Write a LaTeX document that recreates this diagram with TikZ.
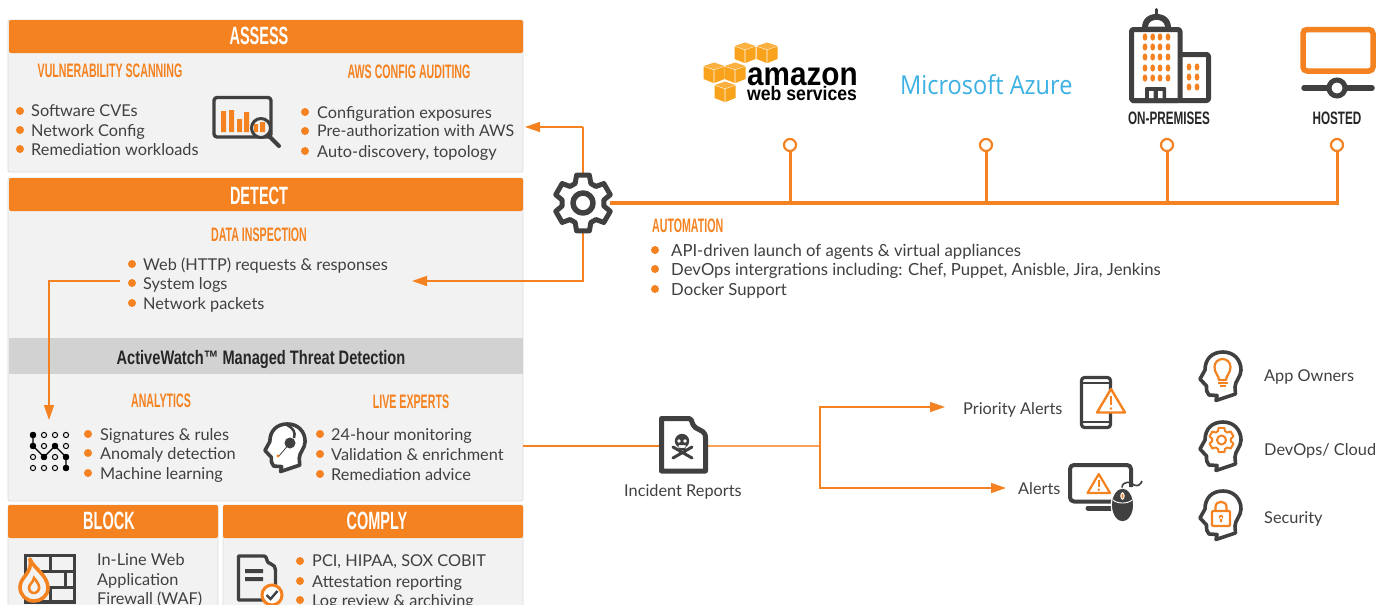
\documentclass[tikz,border=0pt]{standalone}
\usepackage{fontspec}
\setmainfont{Lato}
\newfontfamily\headf[FakeStretch=0.58]{Liberation Sans}
\newfontfamily\subf[FakeStretch=0.545]{Liberation Sans}
\newfontfamily\awf[FakeStretch=0.75]{Liberation Sans}
\newfontfamily\opf[FakeStretch=0.65]{Liberation Sans}
\newfontfamily\wsf[FakeStretch=0.90]{Liberation Sans}
\newfontfamily\azf[FakeStretch=0.905]{Open Sans}
\usetikzlibrary{arrows.meta,calc}
\definecolor{org}{HTML}{F58220}
\definecolor{dk}{HTML}{404040}
\definecolor{pan}{HTML}{F2F2F2}
\definecolor{bandc}{HTML}{D2D2D2}
\definecolor{pedge}{HTML}{DCDCDC}
\definecolor{azc}{HTML}{3DB1E3}
\definecolor{cubea}{HTML}{F9A21B}
\definecolor{cubeb}{HTML}{FBB040}
\tikzset{
  x=1pt,y=-1pt,
  panel/.style={fill=pan,draw=pedge,line width=.8,rounded corners=2},
  hdr/.style={fill=org,rounded corners=2},
  hdrtext/.style={text=white,font=\headf\bfseries\fontsize{25}{25}\selectfont,inner sep=0},
  sub/.style={text=org,font=\subf\bfseries\fontsize{19.5}{19.5}\selectfont,inner sep=0},
  body/.style={text=dk,font=\fontsize{16.3}{16.3}\selectfont,anchor=west,inner sep=0,yshift=-2.5pt},
  bull/.style={circle,fill=org,inner sep=0,minimum size=8},
  conn/.style={draw=org,line width=1.4},
  arr/.style={conn,-{Triangle[length=15,width=10,fill=org]}},
  thick line/.style={draw=org,line width=3.6},
  ic/.style={draw=dk,line width=3.4,line join=round},
  icorg/.style={draw=org,line width=2.2,line join=round},
  pinring/.style={circle,draw=org,line width=2.2,fill=white,inner sep=0,minimum size=12},
  opl/.style={inner sep=0,text=black!85,font=\opf\bfseries\fontsize{18}{18}\selectfont},
}
\newcommand\bl[5]{\node[bull] (#5b) at (#1,#3) {};\node[body] (#5) at (#2,#3) {\strut #4};}
\newcommand\gearshape[3]{%
  \draw[ic,line width=5] (17:#1) \foreach \a in {30,90,...,330}{ -- (\a-13:#1) -- (\a+13:#1) -- (\a+22:#2) -- (\a+38:#2) -- (\a+47:#1) } -- cycle;
  \draw[ic,line width=5.5] (0,0) circle (#3);}
\newcommand\headicon[3]{%
  \begin{scope}[shift={(#1,#2)},scale=#3]
  \draw[ic,line width=3.6,fill=white] (19,50.5) -- (20,45.5) -- (12,45) .. controls (9.5,43) and (9.5,40) .. (9.5,36) -- (3,29) -- (8,20)
   .. controls (8,9) and (15,2) .. (26,2) .. controls (37,2) and (44,10) .. (44,20)
   .. controls (44,27) and (38,31) .. (38,37) -- (38.5,44) -- cycle;
  \end{scope}}
\newcommand\warn[5]{%
  \draw[draw=org,line width=#5,line join=round,fill=white] ({(#1+#2)/2},#3) -- (#2,#4) -- (#1,#4) -- cycle;
  \draw[draw=org,line width=#5] ({(#1+#2)/2},{#3+0.3*(#4-#3)}) -- ({(#1+#2)/2},{#3+0.68*(#4-#3)});
  \fill[org] ({(#1+#2)/2},{#3+0.83*(#4-#3)}) circle (#5*0.6);}
\newcommand\cube[2]{%
  \begin{scope}[shift={(#1,#2)}]
  \fill[cubea] (-.4,-3) -- (-10.5,-6.5) -- (-10.5,6) -- (-.4,10) -- cycle;
  \fill[cubea] (.4,-3) -- (10.5,-6.5) -- (10.5,6) -- (.4,10) -- cycle;
  \fill[cubeb] (0,-10.5) -- (10.5,-7) -- (0,-3.5) -- (-10.5,-7) -- cycle;
  \end{scope}}
\begin{document}
\begin{tikzpicture}
\clip (0,0) rectangle (1379,605);
\fill[white] (0,0) rectangle (1379,605);
% panels
\draw[panel] (8,20) rectangle (523,172);
\draw[panel] (8,178) rectangle (523,501);
\draw[panel] (8,505) rectangle (218,620);
\draw[panel] (223,505) rectangle (523,620);
\fill[hdr] (9,20) rectangle (523,53);
\fill[hdr] (9,178) rectangle (523,211);
\fill[bandc] (8.5,338) rectangle (523,374);
\fill[hdr] (8,505) rectangle (218,538);
\fill[hdr] (223,505) rectangle (523,538);
\node[hdrtext] (assess) at (259,36) {ASSESS};
\node[hdrtext] (detect) at (259,196) {DETECT};
\node[hdrtext] (block) at (109,521) {BLOCK};
\node[hdrtext] (comply) at (377,521) {COMPLY};
\node[sub] (vs) at (110,71) {VULNERABILITY SCANNING};
\node[sub] (aws) at (409,72) {AWS CONFIG AUDITING};
\node[sub] (di) at (259,235) {DATA INSPECTION};
\node[sub] (an) at (161,401) {ANALYTICS};
\node[sub] (le) at (411,402) {LIVE EXPERTS};
\node[inner sep=0,text=black!85,font=\awf\bfseries\fontsize{19.5}{19.5}\selectfont] (aw) at (261,359) {ActiveWatch™ Managed Threat Detection};
% lists
\bl{20}{31}{111}{Software CVEs}{a1}
\bl{20}{31}{130}{Network Config}{a2}
\bl{20}{31}{149}{Remediation workloads}{a3}
\bl{305}{317}{112}{Configuration exposures}{b1}
\bl{305}{317}{131}{\fontsize{16}{16}\selectfont Pre-authorization with AWS}{b2}
\bl{305}{317}{151}{Auto-discovery, topology}{b3}
\bl{132}{143}{264}{Web (HTTP) requests \& responses}{c1}
\bl{132}{143}{283}{System logs}{c2}
\bl{132}{143}{303}{Network packets}{c3}
\bl{88}{100}{434}{Signatures \& rules}{d1}
\bl{88}{100}{453}{Anomaly detection}{d2}
\bl{88}{100}{473}{Machine learning}{d3}
\bl{320}{331}{434}{24-hour monitoring}{e1}
\bl{320}{331}{454}{Validation \& enrichment}{e2}
\bl{320}{331}{474}{Remediation advice}{e3}
\bl{300}{312}{561}{PCI, HIPAA, SOX COBIT}{f1}
\bl{300}{312}{581}{Attestation reporting}{f2}
\bl{300}{312}{600}{Log review \& archiving}{f3}
\bl{655}{671}{250}{\fontsize{16.7}{16.7}\selectfont API-driven launch of agents \& virtual appliances}{g1}
\bl{655}{671}{269}{\fontsize{16.7}{16.7}\selectfont DevOps intergrations including: Chef, Puppet, Anisble, Jira, Jenkins}{g2}
\bl{655}{671}{289}{\fontsize{16.7}{16.7}\selectfont Docker Support}{g3}
\node[body] (w1) at (97,559) {\strut In-Line Web};
\node[body] (w2) at (97,579) {\strut Application};
\node[body] (w3) at (97,598) {\strut Firewall (WAF)};
\node[sub,anchor=west] (auto) at (652,226) {AUTOMATION};
% right labels
\node[body] (pa) at (963,408) {\strut Priority Alerts};
\node[body] (al) at (1018,488) {\strut Alerts};
\node[body] (ir) at (624,490) {\strut Incident Reports};
\node[body] (ao) at (1264,376) {\strut App Owners};
\node[body] (dc) at (1264,449) {\strut DevOps/ Cloud};
\node[body] (se) at (1264,517) {\strut Security};
\node[opl] (op) at (1169,118) {ON-PREMISES};
\node[opl] (ho) at (1337,118) {HOSTED};
% gear node and connectors
\coordinate (gear) at (583,203);
\coordinate (gu) at (583,127);
\coordinate (gd) at (583,281);
\coordinate (assessin) at (525,127);
\coordinate (detectin) at (412,281);
\coordinate (logs0) at (120,281);
\coordinate (logs1) at (49,281);
\coordinate (anin) at (49,420);
\draw[conn] (gear) -- (gu);
\draw[arr] (gu) -- (assessin);
\draw[arr] (gear) |- (detectin);
\draw[arr] (logs0) -- (logs1) -- (anin);
\coordinate (busl) at (600,203);
\coordinate (busr) at (1338.5,203);
\draw[thick line] (busl) -- (busr);
\foreach \n/\x in {p1/790,p2/986,p3/1167,p4/1337}{
  \node[pinring] (\n) at (\x,145) {};
  \coordinate (\n b) at (\x,203);
  \draw[draw=org,line width=3] (\n) -- (\n b);
}
\begin{scope}[shift={(gear)}]
\fill[white] (0,0) circle (27);
\gearshape{28.5}{21}{10}
\end{scope}
% report flow
\coordinate (r0) at (523,446);
\coordinate (r1) at (661,446);
\coordinate (r2) at (706,446);
\coordinate (sp) at (820,446);
\coordinate (sp1) at (820,407);
\coordinate (sp2) at (820,488);
\coordinate (pe) at (945,407);
\coordinate (ale) at (1006,488);
\draw[draw=org,line width=1.8] (r0) -- (r1);
\draw[draw=org!75!white,line width=1.8] (r2) -- (sp);
\draw[arr] (sp) -- (sp1) -- (pe);
\draw[arr] (sp) -- (sp2) -- (ale);
% skull doc
\draw[ic,line width=5] (661.5,418.5) -- (689,418.5) .. controls (693,419) and (691,425) .. (696,428) .. controls (701,431) and (705.5,431) .. (705.5,438) -- (705.5,471) -- (661.5,471) -- cycle;
\fill[dk] (682,441) circle (7.2) (678.5,445) rectangle (685.5,450);
\fill[white] (679,441) circle (1.8) (685,441) circle (1.8);
\draw[dk,line width=3,line cap=round] (673,447) -- (692,458) (692,447) -- (673,458);
% assess icon
\draw[ic,rounded corners=3] (214,97.5) rectangle (271,137);
\fill[org] (221,111) rectangle (226,132) (229,110) rectangle (234,132) (237,119) rectangle (242,132) (244,112) rectangle (249,132);
\draw[ic,fill=pan,line width=3] (261,128) circle (9.5);
\fill[org] (254,124) rectangle (258,132) (260,122) rectangle (265,132);
\draw[dk,line width=4,line cap=round] (268,135) -- (279,146);
% analytics icon
\foreach \i in {0,1,2,3}\foreach \j in {0,1,2,3}{
  \draw[black,line width=1,fill=pan] (33+11*\i,435+11*\j) circle (2.6);}
\draw[black,line width=1.3] (33,435) -- (33,446) -- (44,457) -- (55,446) -- (66,457) -- (66,468);
\foreach \i/\j in {0/0,0/1,1/2,2/1,3/2,3/3}{\fill[black] (33+11*\i,435+11*\j) circle (3.2);}
% headset head
\headicon{262}{422}{0.98}
\draw[dk,line width=2.5] (287,425) .. controls (293,428) and (296,432) .. (294,438);
\fill[dk] (290,443) circle (5.5);
\draw[dk,line width=.8] (290,443) -- (279,456);
\fill[org] (278,456) circle (1.6);
% firewall
\draw[dk,line width=3.2] (25.5,555.5) rectangle (74.5,602);
\draw[dk,line width=3] (25,571) -- (75,571) (25,587) -- (75,587) (50,555) -- (50,571) (65,571) -- (65,587) (50,587) -- (50,603);
\draw[org,line width=3.6,fill=pan,line join=round] (30,559) .. controls (33,568) and (48,575) .. (48,588) .. controls (48,596) and (41,601) .. (34,601) .. controls (26,601) and (20,595) .. (20,587) .. controls (20,577) and (33,573) .. (30,559) -- cycle;
\draw[org,line width=2.6] (34,578) .. controls (38,583) and (41,587) .. (38,591) .. controls (35,595) and (29,593) .. (29,588) .. controls (29,584) and (33,583) .. (34,578) -- cycle;
% document check
\draw[ic] (238.5,556) -- (264,556) .. controls (268,556) and (265,563) .. (271,564) .. controls (274,565) and (275.5,567) .. (275.5,570) -- (275.5,600) -- (238.5,600) -- cycle;
\fill[dk] (245,569) rectangle (263,573) (245,577) rectangle (263,581);
\draw[org,line width=3,fill=white] (272,595) circle (10);
\draw[dk,line width=2.4] (266.5,595) -- (270.5,599) -- (277.5,591);
% AWS
\cube{745}{53}\cube{767}{53}\cube{714}{73}\cube{735}{73}\cube{725}{92}
\node[inner sep=0,anchor=west,text=black,font=\wsf\bfseries\fontsize{33}{20}\selectfont,text height=18,text depth=0] (am) at (747,76) {amazon};
\node[inner sep=0,anchor=west,text=black,font=\wsf\bfseries\fontsize{19.6}{12}\selectfont,text height=11,text depth=0] (wsv) at (747,95) {web services};
\node[inner sep=0,anchor=west,text=azc,font=\azf\fontsize{26}{26}\selectfont] (azure) at (900,85) {Microsoft Azure};
% building
\draw[ic,line width=5,rounded corners=2] (1131.5,100.5) -- (1131.5,29.5) -- (1180,29.5) -- (1180,100.5) -- cycle;
\draw[ic,line width=5,rounded corners=2] (1180,54.5) -- (1208.5,54.5) -- (1208.5,100.5) -- (1131.5,100.5);
\fill[dk] (1142,28) .. controls (1142,19) and (1148,14) .. (1156.5,14) .. controls (1165,14) and (1171,19) .. (1171,28) -- cycle;
\fill[white] (1148,26.5) .. controls (1149,22) and (1152,20) .. (1156.5,20) .. controls (1161,20) and (1164,22) .. (1165,26.5) -- cycle;
\draw[dk,line width=3,line cap=round] (1156.5,9.5) -- (1156.5,15);
\foreach \x in {1145,1152.7,1160,1168}\foreach \y in {37,47,57,68,78}{\fill[org] (\x,\y) ellipse (2.4 and 3.6);}
\foreach \x in {1189,1197}\foreach \y in {67,77,87}{\fill[org] (\x,\y) ellipse (2.4 and 3.6);}
\fill[dk,rounded corners=1] (1145,87) rectangle (1166,102);
\fill[white] (1149,91) rectangle (1153.5,98) (1158,91) rectangle (1162.5,98);
% hosted
\draw[org,line width=5.5,rounded corners=4] (1303,29.5) rectangle (1373,71);
\draw[dk,line width=5.5,line cap=round] (1304,88) -- (1372,88);
\draw[dk,line width=5,fill=white] (1337,88) circle (8);
% phone
\draw[ic,rounded corners=3,line width=3.2] (1081.5,377.5) rectangle (1110.5,427.5);
\draw[dk,line width=2.6] (1081,383) -- (1111,383) (1081,422) -- (1111,422);
\warn{1097}{1125}{389}{412.5}{2.4}
% monitor with mouse
\draw[ic,rounded corners=4,line width=4] (1112,501.5) -- (1070,501.5) -- (1070,465) -- (1131,465) -- (1131,487);
\draw[dk,line width=5,line cap=round] (1088,508) -- (1111,508);
\warn{1087.5}{1110}{474}{493}{2.2}
\draw[white,line width=1.2,fill=dk] (1122.5,505) ellipse (11.2 and 17);
\draw[white,line width=.9] (1113,500) .. controls (1117,504) and (1128,504) .. (1132,500);
\fill[white] (1122.5,496) ellipse (2.2 and 3.8);
\fill[org] (1122.5,496) ellipse (1 and 2.4);
\draw[dk,line width=1.6] (1122,487.5) .. controls (1122,481) and (1132,481) .. (1134,485) .. controls (1138,487) and (1141,484) .. (1142,481);
% audience heads
\headicon{1197}{350}{1}
\headicon{1197}{420}{1}
\headicon{1197}{489}{1}
% bulb
\begin{scope}[shift={(1222.5,373)}]
\draw[icorg,line width=2.2] (-3.5,7) .. controls (-3.5,3) and (-8,0) .. (-8,-6) .. controls (-8,-11) and (-4,-14) .. (0,-14) .. controls (4,-14) and (8,-11) .. (8,-6) .. controls (8,0) and (3.5,3) .. (3.5,7) -- cycle;
\draw[org,line width=2] (-5,9.5) -- (5,9.5) (-3,13) -- (3,13);
\end{scope}
% gear in head
\begin{scope}[shift={(1221.5,440)}]
\draw[icorg,line width=2] (17:12.5) \foreach \a in {30,90,...,330}{ -- (\a-13:12.5) -- (\a+13:12.5) -- (\a+22:9.5) -- (\a+38:9.5) -- (\a+47:12.5) } -- cycle;
\draw[icorg,line width=2] (0,0) circle (4.5);
\end{scope}
% lock
\begin{scope}[shift={(1221,515)}]
\draw[icorg,line width=2.2,rounded corners=1] (-9,-4) rectangle (9,11);
\draw[icorg,line width=2.2] (-5.5,-4) -- (-5.5,-8) .. controls (-5.5,-15) and (5.5,-15) .. (5.5,-8) -- (5.5,-4);
\fill[org] (0,2) circle (2.2) (-1,2) rectangle (1,7);
\end{scope}
\end{tikzpicture}
\end{document}
